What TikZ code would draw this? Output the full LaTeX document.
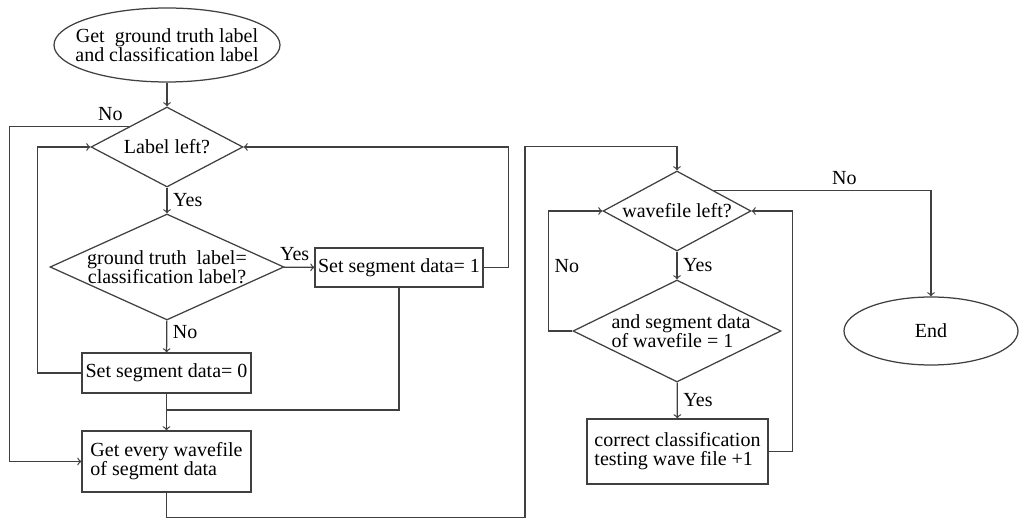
\documentclass[tikz,border=0pt]{standalone}
\usepackage{fontspec}
\setmainfont{Liberation Serif}
\usetikzlibrary{shapes.geometric}

\begin{document}
\begin{tikzpicture}[x=0.6pt,y=-0.6pt,
        every node/.style={font=\fontsize{12}{11.5}\selectfont},
        line/.style={draw=black!75,line width=0.75pt},
        flow/.style={line,->},
        terminal/.style={ellipse,line,inner sep=0pt},
        decision/.style={diamond,line,inner sep=0pt},
        process/.style={rectangle,line,inner sep=0pt}]
        \useasboundingbox (0,0) rectangle (1030,522);
        % left column
        \node[terminal,minimum width=135.6pt,minimum height=44.4pt,
            label={[align=center]center:{Get~~ground truth label\\and classification label}}] (start) at (167,45) {};
        \node[decision,minimum width=91.2pt,minimum height=48pt,
            label={center:{Label left?}}] (lleft) at (167,147) {};
        \node[decision,minimum width=140.4pt,minimum height=63.6pt,
            label={[align=center]center:{ground truth~~label=\\classification label?}}] (same) at (167,267) {};
        \node[process,minimum width=100.8pt,minimum height=23.4pt] (setone) at (399,267.5) {Set segment data= 1};
        \node[process,minimum width=101.4pt,minimum height=24pt] (setzero) at (166.5,373) {Set segment data= 0};
        \node[process,minimum width=101.4pt,minimum height=36.6pt,align=left] (getwave) at (166.5,461.5) {Get every wavefile\\of segment data};
        \coordinate (merge) at (166.5,410);
        % right column
        \node[decision,minimum width=88.8pt,minimum height=48pt,
            label={center:{wavefile left?}}] (wleft) at (677,211) {};
        \node[decision,minimum width=124.8pt,minimum height=61.2pt,
            label={[align=left,xshift=2.4pt]center:{and segment data\\of wavefile = 1}}] (segone) at (677,331) {};
        \node[process,minimum width=108.6pt,minimum height=39pt,align=left] (count) at (677.5,451.5) {correct classification\\testing wave file +1};
        \node[terminal,minimum width=104.4pt,minimum height=40.8pt] (end) at (931,331) {End};

        \draw[flow] (start) -- (lleft);
        \draw[flow] (lleft) -- node[right] {Yes} (same);
        \draw[flow] (same) -- node[pos=0.35,above] {Yes} (setone);
        \draw[flow] (same) -- node[pos=0.35,right] {No} (setzero);
        \draw[flow] (setzero.west) -- ++(-44,0) |- (lleft.west);
        \draw[flow] (setone.east) -- ++(25,0) |- (lleft.east);
        \draw[line] (setone.south) |- (merge);
        \draw[flow] (setzero) -- (getwave);
        \draw[flow] (lleft.north west) node[above left] {No} -- ++(-119,0) |- (getwave.west);
        \draw[flow] (getwave.south) -- ++(0,25) -| ++(358.5,-371) -| (wleft.north);
        \draw[flow] (wleft) -- node[right] {Yes} (segone);
        \draw[flow] (segone.west) -- ++(-24,0) |- node[pos=0.27,right] {No} (wleft.west);
        \draw[flow] (segone) -- node[right] {Yes} (count);
        \draw[flow] (count.east) -- ++(24,0) |- (wleft.east);
        \draw[flow] (wleft.north east) -| node[pos=0.3,above] {No} (end);
    \end{tikzpicture}
\end{document}
